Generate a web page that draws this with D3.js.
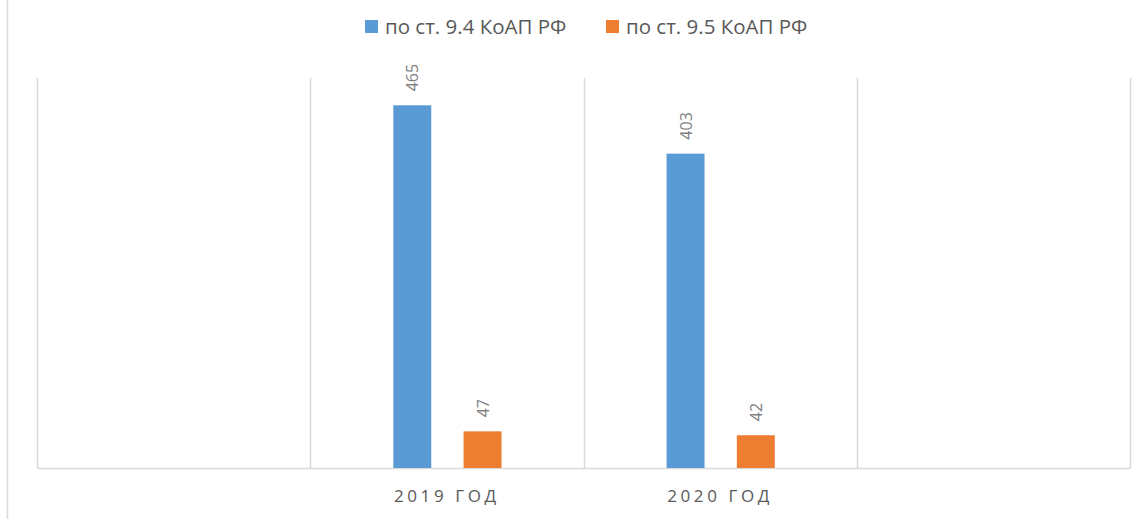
<!DOCTYPE html>
<html>
<head>
<meta charset="utf-8">
<script src="https://cdnjs.cloudflare.com/ajax/libs/d3/7.8.5/d3.min.js"></script>
<style>
  body { margin: 0; background: #fff; }
  text { font-family: "Open Sans", sans-serif; }
</style>
</head>
<body>
<div id="chart-area"></div>
<script>
// data
const categories = ["", "2019 ГОД", "2020 ГОД", " "]
const seriesNames = ["по ст. 9.4 КоАП РФ", "по ст. 9.5 КоАП РФ"]
const art94 = [null, 465, 403, null]
const art95 = [null, 47, 42, null]
const yDomain = [0, 500]

const COLORS = ["#5b9bd5", "#ed7d31"]
const W = 1148, H = 519
const PLOT = { LEFT: 37, RIGHT: 1130, TOP: 78, BOTTOM: 468 }

const svg = d3.select("#chart-area").append("svg")
  .attr("width", W)
  .attr("height", H)

// chart area border (left edge visible)
svg.append("line")
  .attr("x1", 7.5).attr("x2", 7.5)
  .attr("y1", 0).attr("y2", H)
  .attr("stroke", "#d9d9d9")
  .attr("stroke-width", 1.5)

const x = d3.scaleBand()
  .domain(categories)
  .range([PLOT.LEFT, PLOT.RIGHT])
  .padding(0)

const xInner = d3.scaleBand()
  .domain(seriesNames)
  .range([x.bandwidth() * 0.304, x.bandwidth() * 0.70])
  .paddingInner(0.46)
  .paddingOuter(0)

const y = d3.scaleLinear()
  .domain(yDomain)
  .range([PLOT.BOTTOM, PLOT.TOP])

// vertical gridlines at category boundaries
const bounds = categories.map(c => x(c)).concat([x(categories[categories.length - 1]) + x.bandwidth()])
svg.append("g")
  .selectAll("line")
  .data(bounds)
  .join("line")
    .attr("x1", d => Math.round(d) + 0.5)
    .attr("x2", d => Math.round(d) + 0.5)
    .attr("y1", PLOT.TOP)
    .attr("y2", PLOT.BOTTOM)
    .attr("stroke", "#d9d9d9")
    .attr("stroke-width", 1.5)

// x axis baseline + labels
const xAxis = d3.axisBottom(x).tickSize(0).tickPadding(22)
const gx = svg.append("g")
  .attr("transform", `translate(0, ${PLOT.BOTTOM})`)
  .call(xAxis)
gx.select(".domain")
  .attr("stroke", "#d9d9d9")
  .attr("stroke-width", 1.5)
gx.selectAll("text")
  .attr("font-family", "Open Sans, sans-serif")
  .attr("font-size", "17px")
  .attr("letter-spacing", "3.6px")
  .attr("fill", "#595959")

// bars
const rows = categories.map((c, i) => ({ cat: c, vals: [art94[i], art95[i]] }))
const groups = svg.append("g")
  .selectAll("g")
  .data(rows)
  .join("g")
    .attr("transform", d => `translate(${x(d.cat)}, 0)`)

const cells = groups.selectAll("g")
  .data(d => d.vals.map((v, j) => ({ name: seriesNames[j], value: v, j: j })).filter(e => e.value != null))
  .join("g")

cells.append("rect")
  .attr("x", d => xInner(d.name))
  .attr("width", xInner.bandwidth())
  .attr("y", d => y(d.value))
  .attr("height", d => y(0) - y(d.value))
  .attr("fill", d => COLORS[d.j])

// value labels, rotated
cells.append("text")
  .attr("transform", d => `translate(${xInner(d.name) + xInner.bandwidth() / 2 + 6}, ${y(d.value) - 14}) rotate(-90)`)
  .attr("text-anchor", "start")
  .attr("font-size", "16px")
  .attr("fill", "#7f7f7f")
  .text(d => d.value)

// legend
const legendX = [365, 606]
const legend = svg.append("g")
  .selectAll("g")
  .data(seriesNames)
  .join("g")
    .attr("transform", (d, i) => `translate(${legendX[i]}, 20)`)
legend.append("rect")
  .attr("width", 13)
  .attr("height", 13)
  .attr("fill", (d, i) => COLORS[i])
legend.append("text")
  .attr("x", 20)
  .attr("y", 14)
  .attr("font-size", "20.5px")
  .attr("fill", "#595959")
  .text(d => d)
</script>
</body>
</html>
